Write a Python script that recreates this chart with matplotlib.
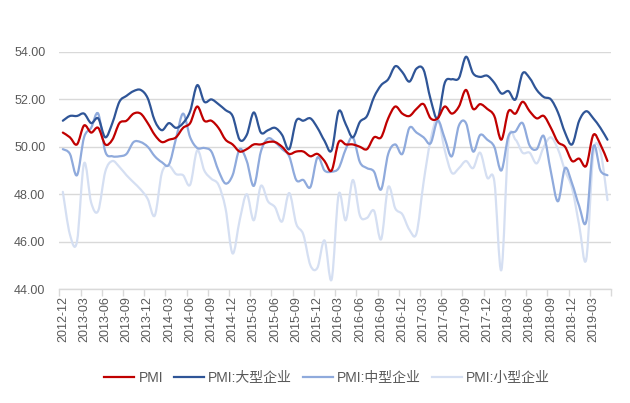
import numpy as np
import matplotlib
matplotlib.use("Agg")
import matplotlib.pyplot as plt
from matplotlib.path import Path
from matplotlib.patches import PathPatch
from matplotlib.lines import Line2D

plt.rcParams['font.family'] = ['Liberation Sans', 'Noto Sans CJK SC', 'DejaVu Sans']

# ---- data ----
start_year, start_month, n_months = 2012, 12, 78
dates = []
y, m = start_year, start_month
for _ in range(n_months):
    dates.append(f"{y}-{m:02d}")
    m += 1
    if m > 12:
        m = 1
        y += 1

series_names = ["PMI", "PMI:大型企业", "PMI:中型企业", "PMI:小型企业"]

pmi = [50.6, 50.4, 50.1, 50.9, 50.6, 50.8, 50.1, 50.3, 51.0, 51.1, 51.4, 51.4, 51.0,
       50.5, 50.2, 50.3, 50.4, 50.8, 51.0, 51.7, 51.1, 51.1, 50.8, 50.3, 50.1,
       49.8, 49.9, 50.1, 50.1, 50.2, 50.2, 50.0, 49.7, 49.8, 49.8, 49.6, 49.7,
       49.4, 49.0, 50.2, 50.1, 50.1, 50.0, 49.9, 50.4, 50.4, 51.2, 51.7, 51.4,
       51.3, 51.6, 51.8, 51.2, 51.2, 51.7, 51.4, 51.7, 52.4, 51.6, 51.8, 51.6,
       51.3, 50.3, 51.5, 51.4, 51.9, 51.5, 51.2, 51.3, 50.8, 50.2, 50.0, 49.4,
       49.5, 49.2, 50.5, 50.1, 49.4]

large = [51.1, 51.3, 51.3, 51.4, 51.0, 51.2, 50.4, 51.0, 51.9, 52.15, 52.35, 52.4, 52.05,
         51.1, 50.7, 51.0, 50.8, 51.0, 51.5, 52.6, 51.9, 52.0, 51.8, 51.55, 51.3,
         50.3, 50.5, 51.45, 50.6, 50.7, 50.8, 50.5, 49.9, 51.1, 51.1, 51.2, 50.8,
         50.25, 49.85, 51.5, 50.95, 50.4, 51.05, 51.3, 52.1, 52.6, 52.85, 53.4, 53.15,
         52.75, 53.3, 53.25, 52.0, 51.2, 52.7, 52.85, 52.9, 53.8, 53.1, 52.95, 53.0,
         52.7, 52.25, 52.35, 52.0, 53.1, 52.9, 52.4, 52.1, 52.0, 51.45, 50.6, 50.1,
         51.1, 51.5, 51.2, 50.8, 50.3]

medium = [49.9, 49.7, 48.8, 50.4, 50.8, 51.4, 49.8, 49.6, 49.6, 49.7, 50.2, 50.2, 50.0,
          49.6, 49.35, 49.25, 50.35, 51.4, 50.4, 49.95, 49.95, 49.8, 49.0, 48.45, 48.8,
          49.9, 49.4, 48.35, 49.8, 50.35, 50.2, 49.9, 49.6, 48.6, 48.6, 48.3, 49.55,
          49.0, 48.95, 49.1, 49.9, 50.4, 49.35, 49.1, 48.95, 48.2, 49.7, 50.1, 49.7,
          50.8, 50.6, 50.4, 50.15, 51.1, 50.35, 49.6, 50.9, 51.0, 49.8, 50.5, 50.3,
          50.0, 49.0, 50.45, 50.65, 51.0, 50.05, 49.9, 50.45, 48.95, 47.7, 49.1, 48.45,
          47.5, 46.85, 50.0, 49.0, 48.8]

small = [48.1, 46.3, 46.0, 49.3, 47.65, 47.3, 48.95, 49.4, 49.15, 48.8, 48.5, 48.2, 47.8,
         47.1, 48.9, 49.2, 48.85, 48.8, 48.4, 49.85, 49.0, 48.65, 48.4, 47.4, 45.5,
         46.9, 48.0, 46.9, 48.35, 47.7, 47.45, 46.85, 48.05, 46.75, 46.3, 45.0, 44.9,
         46.05, 44.4, 48.0, 46.9, 48.6, 47.1, 47.0, 47.3, 46.1, 48.3, 47.4, 47.15,
         46.5, 46.35, 48.5, 50.3, 51.2, 49.85, 48.9, 49.1, 49.4, 49.1, 49.75, 48.7,
         48.55, 44.8, 50.2, 50.3, 49.75, 49.75, 49.3, 50.0, 50.4, 49.9, 49.0, 48.25,
         46.7, 45.25, 49.7, 49.8, 47.75]

colors = ["#C00000", "#2F5597", "#8FAADC", "#D5DFF2"]
y_ticks = [44, 46, 48, 50, 52, 54]


def smooth_path(xs, ys):
    xs = np.asarray(xs, float)
    ys = np.asarray(ys, float)
    n = len(xs)
    verts = [(xs[0], ys[0])]
    codes = [Path.MOVETO]
    for i in range(n - 1):
        p0 = i - 1 if i > 0 else 0
        p3 = i + 2 if i + 2 < n else n - 1
        c1 = (xs[i] + (xs[i + 1] - xs[p0]) / 6.0, ys[i] + (ys[i + 1] - ys[p0]) / 6.0)
        c2 = (xs[i + 1] - (xs[p3] - xs[i]) / 6.0, ys[i + 1] - (ys[p3] - ys[i]) / 6.0)
        verts += [c1, c2, (xs[i + 1], ys[i + 1])]
        codes += [Path.CURVE4] * 3
    return Path(verts, codes)


fig = plt.figure(figsize=(6.30, 4.03), dpi=100)
ax = fig.add_axes([59.3 / 630, 1 - 289 / 403, (611 - 59.3) / 630, (289 - 52) / 403])

x = np.arange(len(dates))
all_vals = [pmi, large, medium, small]

# draw lightest first so darker lines sit on top
for k in [3, 2, 1, 0]:
    p = smooth_path(x, all_vals[k])
    patch = PathPatch(p, fill=False, edgecolor=colors[k], linewidth=1.6,
                      capstyle='round', joinstyle='round', zorder=3 + (3 - k))
    ax.add_patch(patch)

handles = [Line2D([], [], color=colors[k], linewidth=1.6) for k in range(4)]

ax.set_xlim(-0.5, len(dates) - 0.5)
ax.set_ylim(44, 54)

ax.set_yticks(y_ticks)
ax.set_yticklabels([f"{v:.2f}" for v in y_ticks])
ax.grid(axis='y', color='#D9D9D9', linewidth=1.0, zorder=0)
ax.set_axisbelow(True)
ax.tick_params(axis='y', length=0, pad=10, labelsize=9, labelcolor='#595959')

# tick marks at category boundaries, labels at category centres
ax.set_xticks(np.arange(-0.5, len(dates), 3))
ax.set_xticklabels([])
ax.tick_params(axis='x', which='major', length=5, width=1.0, color='#D9D9D9', direction='out')
label_pos = np.arange(0, len(dates), 3)
ax.set_xticks(label_pos, minor=True)
ax.set_xticklabels([dates[i] for i in label_pos], minor=True, rotation=90,
                   fontsize=9, color='#595959')
ax.tick_params(axis='x', which='minor', length=0, pad=5)

for s in ['top', 'right', 'left']:
    ax.spines[s].set_visible(False)
ax.spines['bottom'].set_color('#D9D9D9')
ax.spines['bottom'].set_linewidth(1.0)

fig.legend(handles, series_names, loc='center', bbox_to_anchor=(327 / 630, 1 - 378 / 403),
           ncol=4, frameon=False, fontsize=10, handlelength=2.2, handletextpad=0.3,
           columnspacing=0.75, labelcolor='#595959')

fig.savefig("out.png", dpi=100)
